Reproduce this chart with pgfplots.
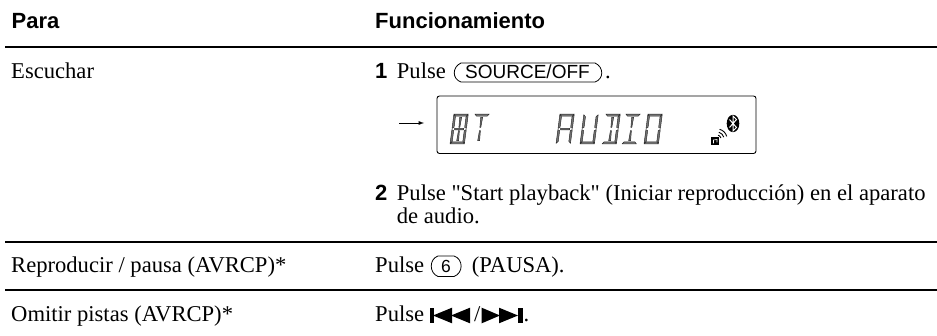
\documentclass[border=0pt]{standalone}
\usepackage{pgfplots}
\pgfplotsset{compat=1.18}
\usepackage{fontspec}
\newfontfamily\ser{Liberation Serif}
\newfontfamily\hv{Liberation Sans}
\newcommand{\bt}[3]{\node[anchor=base west,inner sep=0pt,text=black,font=\fontsize{22.6}{24}\selectfont\ser] at (axis cs:#1,#2) {#3};}
\newcommand{\bh}[3]{\node[anchor=base west,inner sep=0pt,font=\fontsize{22}{24}\selectfont\hv\bfseries] at (axis cs:#1,#2) {#3};}
% LCD segments: W 12, H 27
\tikzset{sg/.style={draw=black!85,line width=0.45pt,fill=black!55,line join=round}}
\newcommand{\sa}{\path[sg] (0,27)--(12,27)--(10.4,25)--(1.6,25)--cycle;}
\newcommand{\sd}{\path[sg] (0,0)--(12,0)--(10.4,2)--(1.6,2)--cycle;}
\newcommand{\sfl}{\path[sg] (0,26.4)--(1.6,24.6)--(1.6,15)--(0,14)--cycle;}
\newcommand{\sbr}{\path[sg] (12,26.4)--(10.4,24.6)--(10.4,15)--(12,14)--cycle;}
\newcommand{\sel}{\path[sg] (0,0.6)--(1.6,2.4)--(1.6,12)--(0,13)--cycle;}
\newcommand{\scr}{\path[sg] (12,0.6)--(10.4,2.4)--(10.4,12)--(12,13)--cycle;}
\newcommand{\sg}{\path[sg] (2.2,14.2)--(9.8,14.2)--(9.8,12.8)--(2.2,12.8)--cycle;}
\newcommand{\sct}{\path[sg] (5.2,24)--(6.8,24)--(6.4,15)--(5.6,15)--cycle;}
\newcommand{\scb}{\path[sg] (5.2,3)--(6.8,3)--(6.4,12)--(5.6,12)--cycle;}
\newcommand{\lcd}[2]{\begin{scope}[shift={(axis cs:#1,144)},x=1.2pt,y=1.11pt,xslant=0.13]#2\end{scope}}
\begin{document}
\begin{tikzpicture}
\begin{axis}[scale only axis,width=937pt,height=336pt,xmin=0,xmax=937,ymin=0,ymax=336,y dir=reverse,axis lines=none,clip=false]
\path[use as bounding box] (axis cs:0,0) rectangle (axis cs:937,336);
% rules
\addplot[black,line width=2pt,forget plot] coordinates {(5,46.7) (937,46.7)};
\addplot[black,line width=2pt,forget plot] coordinates {(5,241.7) (937,241.7)};
\addplot[black,line width=2pt,forget plot] coordinates {(5,290.5) (937,290.5)};
\bh{11.5}{28.5}{Para}
\bh{375}{28.5}{Funcionamiento}
\bt{11}{79}{Escuchar}
\bh{375}{79}{1}
\bt{396.7}{79}{Pulse}
\node[anchor=base west,inner sep=0pt,font=\fontsize{19}{24}\selectfont\hv] at (axis cs:465,78.3) {SOURCE/OFF};
\bt{605}{79}{.}
\draw[line width=0.8pt] (axis cs:461,63) .. controls (axis cs:452,67) and (axis cs:452,79) .. (axis cs:461,82) -- (axis cs:595,82) .. controls (axis cs:604,79) and (axis cs:604,67) .. (axis cs:595,63) -- cycle;
% arrow
\draw[-latex,line width=0.9pt] (axis cs:399,123) -- (axis cs:424,123);
% LCD box
\draw[line width=0.9pt,rounded corners=2.5pt] (axis cs:437,96) rectangle (axis cs:756,153.5);
% BT AUDIO
\lcd{450}{\sa\sd\sfl\sel\sg\sbr\scr\sct\scb}
\lcd{471}{\sa\sct\scb}
\lcd{556}{\sa\sfl\sel\sg\sbr\scr}
\lcd{580}{\sfl\sel\sd\sbr\scr}
\lcd{602}{\sa\sd\sbr\scr\sct\scb}
\lcd{622}{\sa\sd\sct\scb}
\lcd{644}{\sa\sd\sfl\sel\sbr\scr}
% music icon, waves, BT
\fill (axis cs:711,137.5) rectangle (axis cs:719,145);
\draw[white,line width=0.6pt] (axis cs:713.5,143.5) -- (axis cs:713.5,140) -- (axis cs:717,139.5) -- (axis cs:717,142.5);
\draw[line width=0.9pt] (axis cs:720.9,138) arc[start angle=15,end angle=75,radius=4pt];
\draw[line width=0.9pt] (axis cs:723.8,137.2) arc[start angle=15,end angle=75,radius=7pt];
\draw[line width=0.9pt] (axis cs:726.7,136.4) arc[start angle=15,end angle=75,radius=10pt];
\fill (axis cs:733,123.5) ellipse[x radius=6.3pt,y radius=8.7pt];
\draw[white,line width=1pt] (axis cs:729.5,119.5) -- (axis cs:736.5,127.5) -- (axis cs:733,131) -- (axis cs:733,116) -- (axis cs:736.5,119.5) -- (axis cs:729.5,127.5);
% step 2
\bh{375}{200.7}{2}
\bt{396.7}{200.7}{Pulse "Start playback" (Iniciar reproducción) en el aparato}
\bt{396.7}{224}{de audio.}
% row 2
\bt{11}{272.7}{Reproducir / pausa (AVRCP)*}
\bt{375}{272.7}{Pulse}
\node[anchor=base,inner sep=0pt,font=\fontsize{17.5}{24}\selectfont\hv] at (axis cs:446,272.7) {6};
\draw[line width=0.8pt] (axis cs:438,256) .. controls (axis cs:429,259) and (axis cs:429,273) .. (axis cs:438,276.5) -- (axis cs:454,276.5) .. controls (axis cs:463.5,273) and (axis cs:463.5,259) .. (axis cs:454,256) -- cycle;
\bt{471.7}{272.7}{(PAUSA).}
% row 3
\bt{11}{321.7}{Omitir pistas (AVRCP)*}
\bt{375}{321.7}{Pulse}
\fill (axis cs:430,307.7) rectangle (axis cs:434,323.3);
\fill (axis cs:433,315.5) -- (axis cs:452,307.7) -- (axis cs:452,323.3) -- cycle;
\fill (axis cs:451,315.5) -- (axis cs:470,307.7) -- (axis cs:470,323.3) -- cycle;
\bt{474}{321.7}{/}
\fill (axis cs:481.7,307.7) -- (axis cs:500,315.5) -- (axis cs:481.7,323.3) -- cycle;
\fill (axis cs:499,307.7) -- (axis cs:518,315.5) -- (axis cs:499,323.3) -- cycle;
\fill (axis cs:517.7,307.7) rectangle (axis cs:522.7,323.3);
\bt{523.5}{321.7}{.}
\end{axis}
\end{tikzpicture}
\end{document}
